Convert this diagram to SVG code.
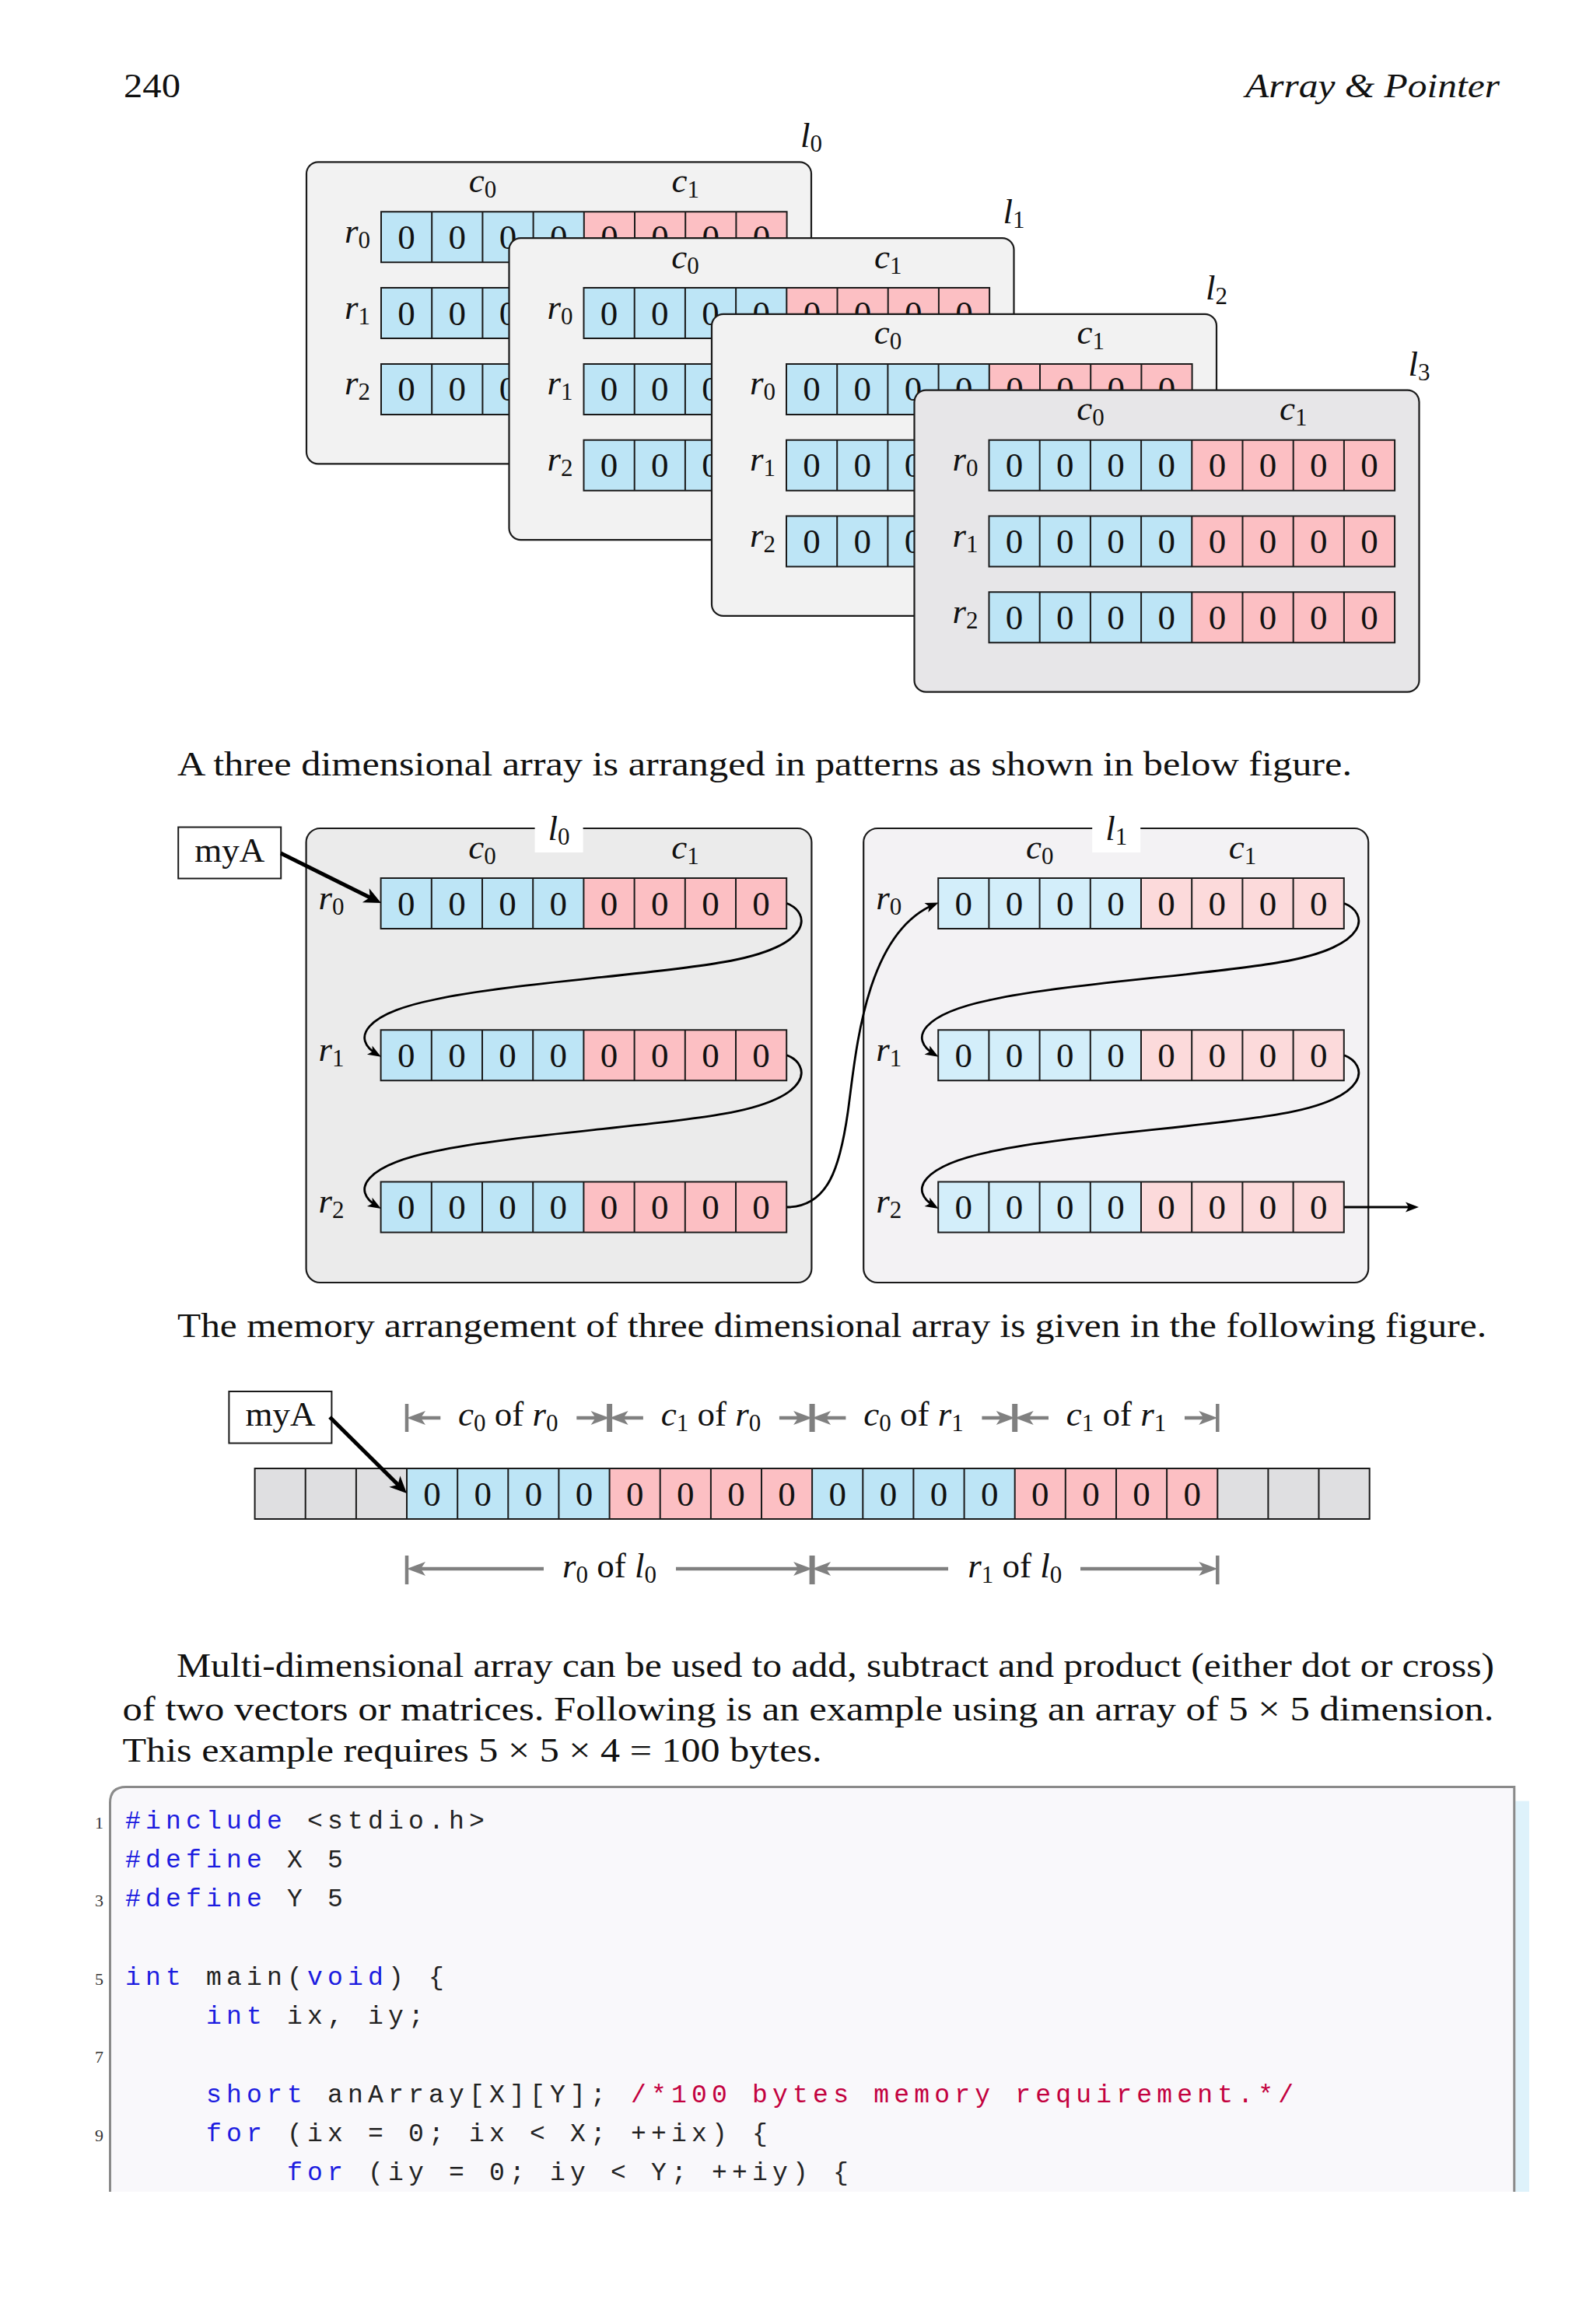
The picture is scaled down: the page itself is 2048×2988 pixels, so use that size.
<svg xmlns="http://www.w3.org/2000/svg" width="2048" height="2988" viewBox="0 0 2048 2988">
<defs>
<style>
.t{font-family:"Liberation Serif","Times New Roman",serif;font-size:45px;fill:#111}
.i{font-style:italic}
.u{font-style:normal}
.s{font-size:31px}
.z{font-family:"Liberation Serif","Times New Roman",serif;font-size:45px;fill:#111;text-anchor:middle}
.frame{stroke:#1a1a1a;stroke-width:2.2}
.cell{fill:none;stroke:#1a1a1a;stroke-width:2}
.b1{fill:#bde5f6}.p1{fill:#fcbfc3}.b2{fill:#d3eefa}.p2{fill:#fcdadb}.g{fill:#dfdfe1}
.con{fill:none;stroke:#000;stroke-width:2.8}
.thick{fill:none;stroke:#000;stroke-width:5}
.dim{fill:none;stroke:#808080;stroke-width:4.5}
.tick{stroke:#808080;stroke-width:4.5}
.tick2{stroke:#808080;stroke-width:7}
.code{font-family:"Liberation Mono","DejaVu Sans Mono",monospace;font-size:33px;letter-spacing:6.2px;fill:#222;white-space:pre}
.kw{fill:#1c1ce0}.cm{fill:#c3003e}
.ln{font-family:"Liberation Serif","Times New Roman",serif;font-size:22px;fill:#333;text-anchor:end}
</style>
<marker id="ah" viewBox="-16 -8 22 16" refX="0" refY="0" markerWidth="22" markerHeight="16" markerUnits="userSpaceOnUse" orient="auto"><path d="M5,0 L-12,-6.5 L-8,0 L-12,6.5 Z" fill="#000"/></marker>
<marker id="ahT" viewBox="-20 -12 30 24" refX="0" refY="0" markerWidth="30" markerHeight="24" markerUnits="userSpaceOnUse" orient="auto"><path d="M8,0 L-14,-10 L-8,0 L-14,10 Z" fill="#000"/></marker>
<marker id="ahG" viewBox="-16 -12 30 24" refX="0" refY="0" markerWidth="30" markerHeight="24" markerUnits="userSpaceOnUse" orient="auto-start-reverse"><path d="M11,0 L-13,-9 L-7,0 L-13,9 Z" fill="#808080"/></marker>
</defs>
<rect x="0" y="0" width="2048" height="2988" fill="#ffffff"/>

<g id="header">
<text class="t" x="159" y="125" textLength="73" lengthAdjust="spacingAndGlyphs">240</text>
<text class="t i" x="1601" y="125" textLength="327" lengthAdjust="spacingAndGlyphs">Array &amp; Pointer</text>
</g>

<!-- ===== Top 3D stack ===== -->
<g id="layer-l0" transform="translate(394,208.3)">
<rect class="frame" x="0" y="0" width="649" height="388" rx="15" fill="#f2f2f2"/>
<text class="t i" x="649" y="-19" text-anchor="middle">l<tspan class="s u" dy="6">0</tspan></text>
<text class="t i" x="226.5" y="38.5" text-anchor="middle">c<tspan class="s u" dy="7">0</tspan></text>
<text class="t i" x="487.3" y="38.5" text-anchor="middle">c<tspan class="s u" dy="7">1</tspan></text>
<rect class="b1" x="96" y="64" width="260.8" height="65"/><rect class="p1" x="356.8" y="64" width="260.8" height="65"/><path class="cell" d="M96,64h521.6v65h-521.6zM161.2,64v65M226.4,64v65M291.6,64v65M356.8,64v65M422,64v65M487.2,64v65M552.4,64v65"/><text class="z" x="128.6 193.8 259 324.2 389.4 454.6 519.8 585" y="111.5">00000000</text>
<rect class="b1" x="96" y="161.8" width="260.8" height="65"/><rect class="p1" x="356.8" y="161.8" width="260.8" height="65"/><path class="cell" d="M96,161.8h521.6v65h-521.6zM161.2,161.8v65M226.4,161.8v65M291.6,161.8v65M356.8,161.8v65M422,161.8v65M487.2,161.8v65M552.4,161.8v65"/><text class="z" x="128.6 193.8 259" y="209.3">000</text>
<rect class="b1" x="96" y="259.6" width="260.8" height="65"/><rect class="p1" x="356.8" y="259.6" width="260.8" height="65"/><path class="cell" d="M96,259.6h521.6v65h-521.6zM161.2,259.6v65M226.4,259.6v65M291.6,259.6v65M356.8,259.6v65M422,259.6v65M487.2,259.6v65M552.4,259.6v65"/><text class="z" x="128.6 193.8 259" y="307.1">000</text>
<text class="t i" x="82" y="103.5" text-anchor="end">r<tspan class="s u" dy="7">0</tspan></text>
<text class="t i" x="82" y="201.3" text-anchor="end">r<tspan class="s u" dy="7">1</tspan></text>
<text class="t i" x="82" y="299.1" text-anchor="end">r<tspan class="s u" dy="7">2</tspan></text>
</g>

<g id="layer-l1" transform="translate(654.5,306.1)">
<rect class="frame" x="0" y="0" width="649" height="388" rx="15" fill="#f2f2f2"/>
<text class="t i" x="649" y="-19" text-anchor="middle">l<tspan class="s u" dy="6">1</tspan></text>
<text class="t i" x="226.5" y="38.5" text-anchor="middle">c<tspan class="s u" dy="7">0</tspan></text>
<text class="t i" x="487.3" y="38.5" text-anchor="middle">c<tspan class="s u" dy="7">1</tspan></text>
<rect class="b1" x="96" y="64" width="260.8" height="65"/><rect class="p1" x="356.8" y="64" width="260.8" height="65"/><path class="cell" d="M96,64h521.6v65h-521.6zM161.2,64v65M226.4,64v65M291.6,64v65M356.8,64v65M422,64v65M487.2,64v65M552.4,64v65"/><text class="z" x="128.6 193.8 259 324.2 389.4 454.6 519.8 585" y="111.5">00000000</text>
<rect class="b1" x="96" y="161.8" width="260.8" height="65"/><rect class="p1" x="356.8" y="161.8" width="260.8" height="65"/><path class="cell" d="M96,161.8h521.6v65h-521.6zM161.2,161.8v65M226.4,161.8v65M291.6,161.8v65M356.8,161.8v65M422,161.8v65M487.2,161.8v65M552.4,161.8v65"/><text class="z" x="128.6 193.8 259" y="209.3">000</text>
<rect class="b1" x="96" y="259.6" width="260.8" height="65"/><rect class="p1" x="356.8" y="259.6" width="260.8" height="65"/><path class="cell" d="M96,259.6h521.6v65h-521.6zM161.2,259.6v65M226.4,259.6v65M291.6,259.6v65M356.8,259.6v65M422,259.6v65M487.2,259.6v65M552.4,259.6v65"/><text class="z" x="128.6 193.8 259" y="307.1">000</text>
<text class="t i" x="82" y="103.5" text-anchor="end">r<tspan class="s u" dy="7">0</tspan></text>
<text class="t i" x="82" y="201.3" text-anchor="end">r<tspan class="s u" dy="7">1</tspan></text>
<text class="t i" x="82" y="299.1" text-anchor="end">r<tspan class="s u" dy="7">2</tspan></text>
</g>

<g id="layer-l2" transform="translate(915,403.9)">
<rect class="frame" x="0" y="0" width="649" height="388" rx="15" fill="#f2f2f2"/>
<text class="t i" x="649" y="-19" text-anchor="middle">l<tspan class="s u" dy="6">2</tspan></text>
<text class="t i" x="226.5" y="38.5" text-anchor="middle">c<tspan class="s u" dy="7">0</tspan></text>
<text class="t i" x="487.3" y="38.5" text-anchor="middle">c<tspan class="s u" dy="7">1</tspan></text>
<rect class="b1" x="96" y="64" width="260.8" height="65"/><rect class="p1" x="356.8" y="64" width="260.8" height="65"/><path class="cell" d="M96,64h521.6v65h-521.6zM161.2,64v65M226.4,64v65M291.6,64v65M356.8,64v65M422,64v65M487.2,64v65M552.4,64v65"/><text class="z" x="128.6 193.8 259 324.2 389.4 454.6 519.8 585" y="111.5">00000000</text>
<rect class="b1" x="96" y="161.8" width="260.8" height="65"/><rect class="p1" x="356.8" y="161.8" width="260.8" height="65"/><path class="cell" d="M96,161.8h521.6v65h-521.6zM161.2,161.8v65M226.4,161.8v65M291.6,161.8v65M356.8,161.8v65M422,161.8v65M487.2,161.8v65M552.4,161.8v65"/><text class="z" x="128.6 193.8 259" y="209.3">000</text>
<rect class="b1" x="96" y="259.6" width="260.8" height="65"/><rect class="p1" x="356.8" y="259.6" width="260.8" height="65"/><path class="cell" d="M96,259.6h521.6v65h-521.6zM161.2,259.6v65M226.4,259.6v65M291.6,259.6v65M356.8,259.6v65M422,259.6v65M487.2,259.6v65M552.4,259.6v65"/><text class="z" x="128.6 193.8 259" y="307.1">000</text>
<text class="t i" x="82" y="103.5" text-anchor="end">r<tspan class="s u" dy="7">0</tspan></text>
<text class="t i" x="82" y="201.3" text-anchor="end">r<tspan class="s u" dy="7">1</tspan></text>
<text class="t i" x="82" y="299.1" text-anchor="end">r<tspan class="s u" dy="7">2</tspan></text>
</g>

<g id="layer-l3" transform="translate(1175.5,501.7)">
<rect class="frame" x="0" y="0" width="649" height="388" rx="15" fill="#e7e6e8"/>
<text class="t i" x="649" y="-19" text-anchor="middle">l<tspan class="s u" dy="6">3</tspan></text>
<text class="t i" x="226.5" y="38.5" text-anchor="middle">c<tspan class="s u" dy="7">0</tspan></text>
<text class="t i" x="487.3" y="38.5" text-anchor="middle">c<tspan class="s u" dy="7">1</tspan></text>
<rect class="b1" x="96" y="64" width="260.8" height="65"/><rect class="p1" x="356.8" y="64" width="260.8" height="65"/><path class="cell" d="M96,64h521.6v65h-521.6zM161.2,64v65M226.4,64v65M291.6,64v65M356.8,64v65M422,64v65M487.2,64v65M552.4,64v65"/><text class="z" x="128.6 193.8 259 324.2 389.4 454.6 519.8 585" y="111.5">00000000</text>
<rect class="b1" x="96" y="161.8" width="260.8" height="65"/><rect class="p1" x="356.8" y="161.8" width="260.8" height="65"/><path class="cell" d="M96,161.8h521.6v65h-521.6zM161.2,161.8v65M226.4,161.8v65M291.6,161.8v65M356.8,161.8v65M422,161.8v65M487.2,161.8v65M552.4,161.8v65"/><text class="z" x="128.6 193.8 259 324.2 389.4 454.6 519.8 585" y="209.3">00000000</text>
<rect class="b1" x="96" y="259.6" width="260.8" height="65"/><rect class="p1" x="356.8" y="259.6" width="260.8" height="65"/><path class="cell" d="M96,259.6h521.6v65h-521.6zM161.2,259.6v65M226.4,259.6v65M291.6,259.6v65M356.8,259.6v65M422,259.6v65M487.2,259.6v65M552.4,259.6v65"/><text class="z" x="128.6 193.8 259 324.2 389.4 454.6 519.8 585" y="307.1">00000000</text>
<text class="t i" x="82" y="103.5" text-anchor="end">r<tspan class="s u" dy="7">0</tspan></text>
<text class="t i" x="82" y="201.3" text-anchor="end">r<tspan class="s u" dy="7">1</tspan></text>
<text class="t i" x="82" y="299.1" text-anchor="end">r<tspan class="s u" dy="7">2</tspan></text>
</g>

<g id="text-1">
<text class="t" x="228" y="997" textLength="1510" lengthAdjust="spacingAndGlyphs">A three dimensional array is arranged in patterns as shown in below figure.</text>
</g>

<!-- ===== Middle figure ===== -->
<g id="myA-1">
<rect x="229.2" y="1063.5" width="132" height="66" fill="#fff" stroke="#1a1a1a" stroke-width="2"/>
<text class="t" x="295.2" y="1108" text-anchor="middle">myA</text>
</g>

<g id="plane-l0" transform="translate(393.6,1065)">
<rect class="frame" x="0" y="0" width="649.8" height="584" rx="18" fill="#ebebeb"/>
<rect x="294" y="-26" width="62" height="57" fill="#fff"/>
<text class="t i" x="325" y="14.5" text-anchor="middle">l<tspan class="s u" dy="6">0</tspan></text>
<text class="t i" x="226.5" y="38.5" text-anchor="middle">c<tspan class="s u" dy="7">0</tspan></text>
<text class="t i" x="487.3" y="38.5" text-anchor="middle">c<tspan class="s u" dy="7">1</tspan></text>
<rect class="b1" x="96" y="64" width="260.8" height="65"/><rect class="p1" x="356.8" y="64" width="260.8" height="65"/><path class="cell" d="M96,64h521.6v65h-521.6zM161.2,64v65M226.4,64v65M291.6,64v65M356.8,64v65M422,64v65M487.2,64v65M552.4,64v65"/><text class="z" x="128.6 193.8 259 324.2 389.4 454.6 519.8 585" y="111.5">00000000</text>
<rect class="b1" x="96" y="259.2" width="260.8" height="65"/><rect class="p1" x="356.8" y="259.2" width="260.8" height="65"/><path class="cell" d="M96,259.2h521.6v65h-521.6zM161.2,259.2v65M226.4,259.2v65M291.6,259.2v65M356.8,259.2v65M422,259.2v65M487.2,259.2v65M552.4,259.2v65"/><text class="z" x="128.6 193.8 259 324.2 389.4 454.6 519.8 585" y="306.7">00000000</text>
<rect class="b1" x="96" y="454.4" width="260.8" height="65"/><rect class="p1" x="356.8" y="454.4" width="260.8" height="65"/><path class="cell" d="M96,454.4h521.6v65h-521.6zM161.2,454.4v65M226.4,454.4v65M291.6,454.4v65M356.8,454.4v65M422,454.4v65M487.2,454.4v65M552.4,454.4v65"/><text class="z" x="128.6 193.8 259 324.2 389.4 454.6 519.8 585" y="501.9">00000000</text>
<text class="t i" x="49" y="103.5" text-anchor="end">r<tspan class="s u" dy="7">0</tspan></text>
<text class="t i" x="49" y="298.7" text-anchor="end">r<tspan class="s u" dy="7">1</tspan></text>
<text class="t i" x="49" y="493.9" text-anchor="end">r<tspan class="s u" dy="7">2</tspan></text>
</g>

<g id="plane-l1" transform="translate(1110.2,1065)">
<rect class="frame" x="0" y="0" width="649" height="584" rx="18" fill="#f3f2f4"/>
<rect x="294" y="-26" width="62" height="57" fill="#fff"/>
<text class="t i" x="325" y="14.5" text-anchor="middle">l<tspan class="s u" dy="6">1</tspan></text>
<text class="t i" x="226.5" y="38.5" text-anchor="middle">c<tspan class="s u" dy="7">0</tspan></text>
<text class="t i" x="487.3" y="38.5" text-anchor="middle">c<tspan class="s u" dy="7">1</tspan></text>
<rect class="b2" x="96" y="64" width="260.8" height="65"/><rect class="p2" x="356.8" y="64" width="260.8" height="65"/><path class="cell" d="M96,64h521.6v65h-521.6zM161.2,64v65M226.4,64v65M291.6,64v65M356.8,64v65M422,64v65M487.2,64v65M552.4,64v65"/><text class="z" x="128.6 193.8 259 324.2 389.4 454.6 519.8 585" y="111.5">00000000</text>
<rect class="b2" x="96" y="259.2" width="260.8" height="65"/><rect class="p2" x="356.8" y="259.2" width="260.8" height="65"/><path class="cell" d="M96,259.2h521.6v65h-521.6zM161.2,259.2v65M226.4,259.2v65M291.6,259.2v65M356.8,259.2v65M422,259.2v65M487.2,259.2v65M552.4,259.2v65"/><text class="z" x="128.6 193.8 259 324.2 389.4 454.6 519.8 585" y="306.7">00000000</text>
<rect class="b2" x="96" y="454.4" width="260.8" height="65"/><rect class="p2" x="356.8" y="454.4" width="260.8" height="65"/><path class="cell" d="M96,454.4h521.6v65h-521.6zM161.2,454.4v65M226.4,454.4v65M291.6,454.4v65M356.8,454.4v65M422,454.4v65M487.2,454.4v65M552.4,454.4v65"/><text class="z" x="128.6 193.8 259 324.2 389.4 454.6 519.8 585" y="501.9">00000000</text>
<text class="t i" x="49" y="103.5" text-anchor="end">r<tspan class="s u" dy="7">0</tspan></text>
<text class="t i" x="49" y="298.7" text-anchor="end">r<tspan class="s u" dy="7">1</tspan></text>
<text class="t i" x="49" y="493.9" text-anchor="end">r<tspan class="s u" dy="7">2</tspan></text>
</g>

<g id="text-2">
<text class="t" x="228" y="1719" textLength="1683" lengthAdjust="spacingAndGlyphs">The memory arrangement of three dimensional array is given in the following figure.</text>
</g>

<!-- ===== Memory layout ===== -->
<g id="myA-2">
<rect x="294.4" y="1789" width="132" height="66.5" fill="#fff" stroke="#1a1a1a" stroke-width="2"/>
<text class="t" x="360.4" y="1833" text-anchor="middle">myA</text>
</g>

<g id="memory-row">
<rect class="g" x="327.6" y="1888" width="195.4" height="65"/>
<rect class="b1" x="523" y="1888" width="260.6" height="65"/>
<rect class="p1" x="783.6" y="1888" width="260.5" height="65"/>
<rect class="b1" x="1044.1" y="1888" width="260.6" height="65"/>
<rect class="p1" x="1304.7" y="1888" width="260.6" height="65"/>
<rect class="g" x="1565.3" y="1888" width="195.4" height="65"/>
<path class="cell" d="M327.6,1888H1760.7V1953H327.6ZM392.7,1888v65M457.9,1888v65M523,1888v65M588.2,1888v65M653.3,1888v65M718.4,1888v65M783.6,1888v65M848.7,1888v65M913.9,1888v65M979,1888v65M1044.1,1888v65M1109.3,1888v65M1174.4,1888v65M1239.6,1888v65M1304.7,1888v65M1369.8,1888v65M1435,1888v65M1500.1,1888v65M1565.3,1888v65M1630.4,1888v65M1695.5,1888v65"/>
<text class="z" x="555.6 620.7 685.9 751 816.2 881.3 946.5 1011.6 1076.8 1141.9 1207 1272.2 1337.3 1402.5 1467.6 1532.8" y="1935.5">0000000000000000</text>
</g>

<g id="dimensions">
<path class="tick" d="M523,1805V1841M1565.3,1805V1841M523,2000V2037M1565.3,2000V2037"/>
<path class="tick2" d="M783.6,1805V1841M1044.1,1805V1841M1304.7,1805V1841M1044.1,2000V2037"/>
<path class="dim" d="M534,1823H566.3" marker-start="url(#ahG)"/>
<path class="dim" d="M741.3,1823H772.6" marker-end="url(#ahG)"/>
<path class="dim" d="M794.6,1823H826.9" marker-start="url(#ahG)"/>
<path class="dim" d="M1001.9,1823H1033.1" marker-end="url(#ahG)"/>
<path class="dim" d="M1055.1,1823H1087.4" marker-start="url(#ahG)"/>
<path class="dim" d="M1262.4,1823H1293.7" marker-end="url(#ahG)"/>
<path class="dim" d="M1315.7,1823H1348" marker-start="url(#ahG)"/>
<path class="dim" d="M1523,1823H1554.3" marker-end="url(#ahG)"/>
<path class="dim" d="M534,2017H699" marker-start="url(#ahG)"/>
<path class="dim" d="M869,2017H1033.1" marker-end="url(#ahG)"/>
<path class="dim" d="M1055.1,2017H1219" marker-start="url(#ahG)"/>
<path class="dim" d="M1389,2017H1554.3" marker-end="url(#ahG)"/>
<text class="t" x="653.3" y="1833" text-anchor="middle"><tspan class="i">c</tspan><tspan class="s" dy="7">0</tspan><tspan dy="-7"> of </tspan><tspan class="i">r</tspan><tspan class="s" dy="7">0</tspan></text>
<text class="t" x="913.9" y="1833" text-anchor="middle"><tspan class="i">c</tspan><tspan class="s" dy="7">1</tspan><tspan dy="-7"> of </tspan><tspan class="i">r</tspan><tspan class="s" dy="7">0</tspan></text>
<text class="t" x="1174.4" y="1833" text-anchor="middle"><tspan class="i">c</tspan><tspan class="s" dy="7">0</tspan><tspan dy="-7"> of </tspan><tspan class="i">r</tspan><tspan class="s" dy="7">1</tspan></text>
<text class="t" x="1435" y="1833" text-anchor="middle"><tspan class="i">c</tspan><tspan class="s" dy="7">1</tspan><tspan dy="-7"> of </tspan><tspan class="i">r</tspan><tspan class="s" dy="7">1</tspan></text>
<text class="t" x="783.6" y="2028" text-anchor="middle"><tspan class="i">r</tspan><tspan class="s" dy="7">0</tspan><tspan dy="-7"> of </tspan><tspan class="i">l</tspan><tspan class="s" dy="7">0</tspan></text>
<text class="t" x="1304.7" y="2028" text-anchor="middle"><tspan class="i">r</tspan><tspan class="s" dy="7">1</tspan><tspan dy="-7"> of </tspan><tspan class="i">l</tspan><tspan class="s" dy="7">0</tspan></text>
</g>

<g id="connectors">
<path class="thick" d="M361,1097 L482.8,1157.4" marker-end="url(#ahT)"/>
<path class="con" d="M1011.6,1161.5 C1041.6,1173 1048.6,1217 929.6,1237 C849.6,1252 649.6,1265 559.6,1285 C469.6,1303 449.6,1335 485.6,1356.3" marker-end="url(#ah)"/>
<path class="con" d="M1011.6,1356.7 C1041.6,1368.2 1048.6,1412.2 929.6,1432.2 C849.6,1447.2 649.6,1460.2 559.6,1480.2 C469.6,1498.2 449.6,1530.2 485.6,1551.5" marker-end="url(#ah)"/>
<path class="con" d="M1011.6,1552 C1065,1552 1080,1500 1090,1430 C1100,1360 1110,1200 1202,1162.5" marker-end="url(#ah)"/>
<path class="con" d="M1728.2,1161.5 C1758.2,1173 1765.2,1217 1646.2,1237 C1566.2,1252 1366.2,1265 1276.2,1285 C1186.2,1303 1166.2,1335 1202.2,1356.3" marker-end="url(#ah)"/>
<path class="con" d="M1728.2,1356.7 C1758.2,1368.2 1765.2,1412.2 1646.2,1432.2 C1566.2,1447.2 1366.2,1460.2 1276.2,1480.2 C1186.2,1498.2 1166.2,1530.2 1202.2,1551.5" marker-end="url(#ah)"/>
<path class="con" d="M1728.2,1552 H1819" marker-end="url(#ah)"/>
<path class="thick" d="M424,1822 L517.3,1914.4" marker-end="url(#ahT)"/>
</g>

<g id="paragraph">
<text class="t" x="227" y="2156" textLength="1694" lengthAdjust="spacingAndGlyphs">Multi-dimensional array can be used to add, subtract and product (either dot or cross)</text>
<text class="t" x="157.5" y="2212" textLength="1763" lengthAdjust="spacingAndGlyphs">of two vectors or matrices.  Following is an example using an array of 5 × 5 dimension.</text>
<text class="t" x="157.5" y="2265" textLength="899" lengthAdjust="spacingAndGlyphs">This example requires 5 × 5 × 4 = 100 bytes.</text>
</g>

<!-- ===== Code listing ===== -->
<g id="listing">
<rect x="1948.3" y="2315.6" width="17.7" height="502.4" fill="#def2fb"/>
<path d="M141.5,2818 V2318 Q141.5,2297.5 162,2297.5 H1946.8 V2818 Z" fill="#f9f8fb"/>
<path d="M141.5,2818 V2318 Q141.5,2297.5 162,2297.5 H1946.8 V2818" fill="none" stroke="#8a8a8a" stroke-width="3"/>
<text class="ln" x="133" y="2351">1</text>
<text class="ln" x="133" y="2451">3</text>
<text class="ln" x="133" y="2552">5</text>
<text class="ln" x="133" y="2652">7</text>
<text class="ln" x="133" y="2753">9</text>
<text class="code" x="161" y="2351"><tspan class="kw">#include</tspan> &lt;stdio.h&gt;</text>
<text class="code" x="161" y="2401"><tspan class="kw">#define</tspan> X 5</text>
<text class="code" x="161" y="2451"><tspan class="kw">#define</tspan> Y 5</text>
<text class="code" x="161" y="2552"><tspan class="kw">int</tspan> main(<tspan class="kw">void</tspan>) {</text>
<text class="code" x="265" y="2602"><tspan class="kw">int</tspan> ix, iy;</text>
<text class="code" x="265" y="2703"><tspan class="kw">short</tspan> anArray[X][Y]; <tspan class="cm">/*100 bytes memory requirement.*/</tspan></text>
<text class="code" x="265" y="2753"><tspan class="kw">for</tspan> (ix = 0; ix &lt; X; ++ix) {</text>
<text class="code" x="369" y="2803"><tspan class="kw">for</tspan> (iy = 0; iy &lt; Y; ++iy) {</text>
</g>
</svg>
